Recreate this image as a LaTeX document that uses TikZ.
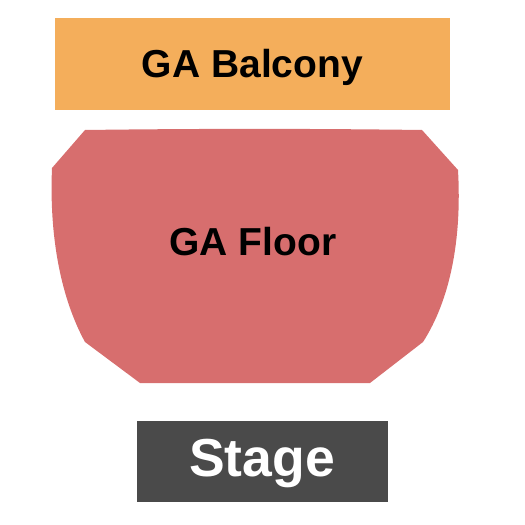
\documentclass[tikz,border=0pt]{standalone}
\usepackage{fontspec}
\setmainfont{Liberation Sans}
\usepackage{xcolor}
\definecolor{balconyorange}{HTML}{F4AE5B}
\definecolor{floorred}{HTML}{D76E6E}
\definecolor{stagegray}{HTML}{4A4A4A}

\begin{document}
\begin{tikzpicture}[x=1pt,y=-1pt,
  section/.style={font=\fontsize{#1}{#1}\bfseries,inner sep=0pt,outer sep=0pt,text height=0.716*#1pt,text depth=0pt}]
\useasboundingbox (0,0) rectangle (525,525);
% balcony
\node[section=39,fill=balconyorange,minimum width=395pt,minimum height=92pt] (balcony) at (252.5,64) {GA Balcony};
% floor
\fill[floorred] (85,130) .. controls (200,128.5) and (310,128.5) .. (422,130)
  -- (458,170) .. controls (462,240) and (450,300) .. (423,342)
  -- (370,383) -- (140,383) -- (85,342)
  .. controls (62,300) and (49,240) .. (52,168) -- cycle;
\node[section=39] (floor) at (253,241.5) {GA Floor};
% stage
\fill[stagegray] (137,421) rectangle (388,502);
\node[section=53.5,text=white] (stage) at (262,457.5) {Stage};
\end{tikzpicture}
\end{document}
